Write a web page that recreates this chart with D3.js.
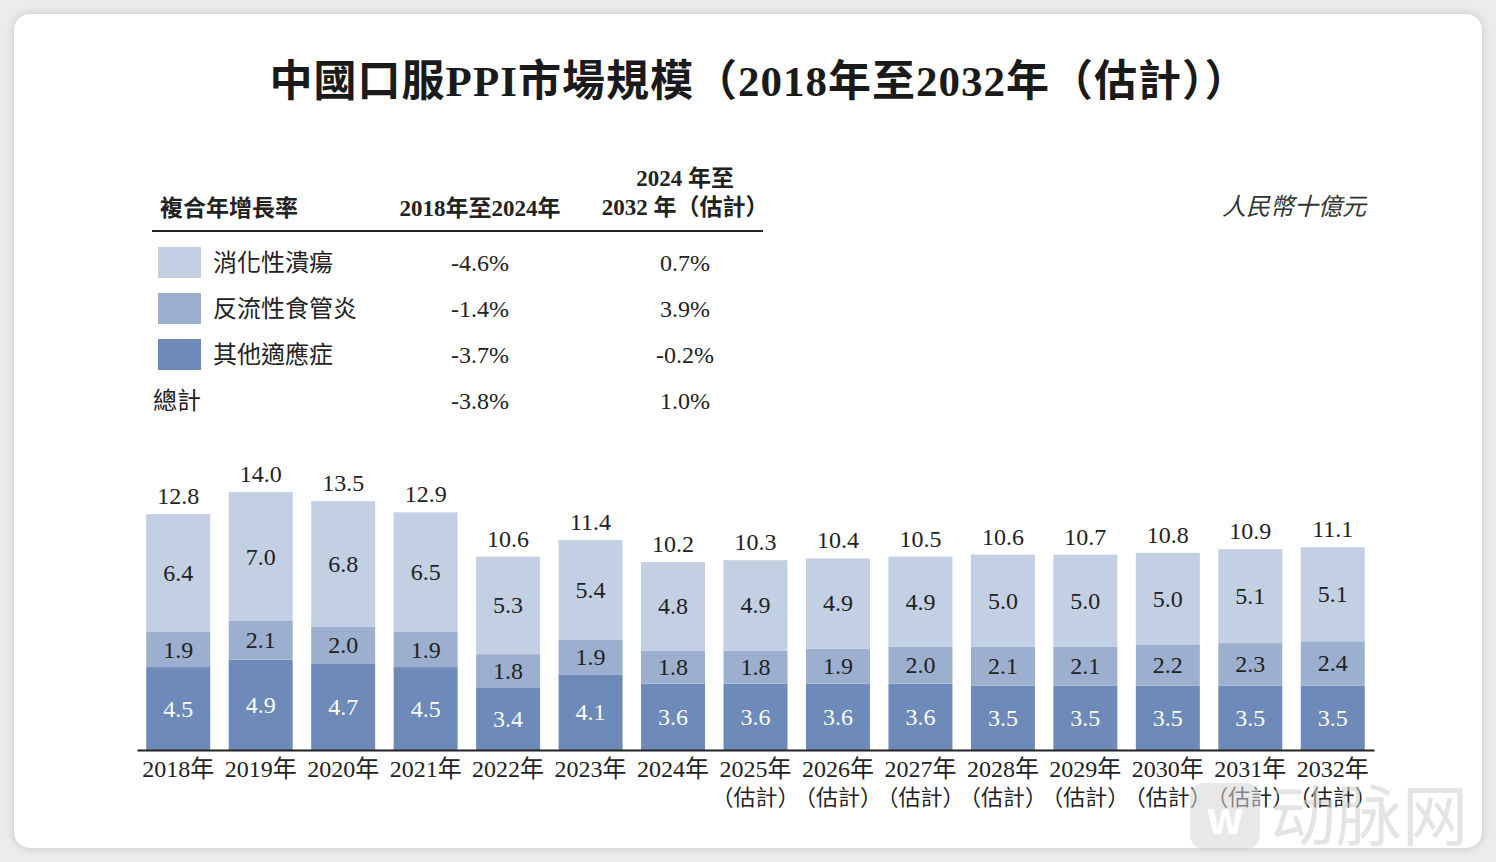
<!DOCTYPE html>
<html><head><meta charset="utf-8">
<script src="https://cdn.jsdelivr.net/npm/d3@7/dist/d3.min.js"></script>
<style>
html,body{margin:0;padding:0;background:#ececec;}
#card{position:absolute;left:14px;top:14px;width:1468px;height:834px;background:#fff;border-radius:16px;box-shadow:0 0 10px rgba(0,0,0,0.18);}
svg{position:absolute;left:0;top:0;}
</style></head>
<body>
<div id="card"></div>
<svg id="chart" width="1496" height="862"></svg>
<script>
const years = ["2018年","2019年","2020年","2021年","2022年","2023年","2024年","2025年","2026年","2027年","2028年","2029年","2030年","2031年","2032年"];
const estimated = [false,false,false,false,false,false,false,true,true,true,true,true,true,true,true];
const others = [4.5,4.9,4.7,4.5,3.4,4.1,3.6,3.6,3.6,3.6,3.5,3.5,3.5,3.5,3.5];
const reflux = [1.9,2.1,2.0,1.9,1.8,1.9,1.8,1.8,1.9,2.0,2.1,2.1,2.2,2.3,2.4];
const ulcer = [6.4,7.0,6.8,6.5,5.3,5.4,4.8,4.9,4.9,4.9,5.0,5.0,5.0,5.1,5.1];
const totals = [12.8,14.0,13.5,12.9,10.6,11.4,10.2,10.3,10.4,10.5,10.6,10.7,10.8,10.9,11.1];
const seriesNames = ["其他適應症","反流性食管炎","消化性潰瘍"];
const legendNames = ["消化性潰瘍","反流性食管炎","其他適應症"];
const cagr1 = ["-4.6%","-1.4%","-3.7%","-3.8%"];
const cagr2 = ["0.7%","3.9%","-0.2%","1.0%"];

const colors = {"消化性潰瘍":"#c3cfe3","反流性食管炎":"#9cafcf","其他適應症":"#6d8ab8"};
const serif = "'Liberation Serif','Noto Sans CJK TC',serif";
const svg = d3.select("#chart");

// title
svg.append("text").attr("x",759).attr("y",96).attr("text-anchor","middle")
  .attr("font-family",serif).attr("font-weight","bold").attr("font-size",43).attr("letter-spacing",1).attr("fill","#1a1a1a")
  .text("中國口服PPI市場規模（2018年至2032年（估計））");

// table
const tb = svg.append("g").attr("font-family",serif).attr("fill","#222");
tb.append("text").attr("x",160).attr("y",216).attr("font-size",23).attr("font-weight","bold").text("複合年增長率");
tb.append("text").attr("x",480).attr("y",216).attr("text-anchor","middle").attr("font-size",23).attr("font-weight","bold").text("2018年至2024年");
tb.append("text").attr("x",685).attr("y",186).attr("text-anchor","middle").attr("font-size",23).attr("font-weight","bold").text("2024 年至");
tb.append("text").attr("x",685).attr("y",215).attr("text-anchor","middle").attr("font-size",23).attr("font-weight","bold").text("2032 年（估計）");
tb.append("line").attr("x1",152).attr("x2",763).attr("y1",231).attr("y2",231).attr("stroke","#222").attr("stroke-width",2);

const rowY = d3.scalePoint().domain([0,1,2,3]).range([263,401]);
legendNames.forEach((n,i)=>{
  const y = rowY(i);
  tb.append("rect").attr("x",158).attr("y",y-16).attr("width",43).attr("height",31).attr("fill",colors[n]);
  tb.append("text").attr("x",213).attr("y",y+8).attr("font-size",24).text(n);
});
tb.append("text").attr("x",153).attr("y",rowY(3)+8).attr("font-size",24).text("總計");
[0,1,2,3].forEach(i=>{
  tb.append("text").attr("x",480).attr("y",rowY(i)+8).attr("text-anchor","middle").attr("font-size",24).text(cagr1[i]);
  tb.append("text").attr("x",685).attr("y",rowY(i)+8).attr("text-anchor","middle").attr("font-size",24).text(cagr2[i]);
});

svg.append("text").attr("x",1366).attr("y",215).attr("text-anchor","end")
  .attr("font-family",serif).attr("font-style","italic").attr("font-size",24).attr("fill","#333").text("人民幣十億元");

// chart
const baseY = 750;
const x = d3.scaleBand().domain(years).range([137,1374]).paddingInner(0.224).paddingOuter(0.112);
const y = d3.scaleLinear().domain([0,14]).range([baseY, baseY-258]);

const data = years.map((yr,i)=>({year:yr,"其他適應症":others[i],"反流性食管炎":reflux[i],"消化性潰瘍":ulcer[i],total:totals[i],est:estimated[i]}));
const stack = d3.stack().keys(seriesNames)(data);

const g = svg.append("g");
stack.forEach(layer=>{
  const key = layer.key;
  g.selectAll(null).data(layer).enter().append("rect")
    .attr("x",d=>x(d.data.year)).attr("width",x.bandwidth())
    .attr("y",d=>y(d[1])).attr("height",d=>y(d[0])-y(d[1]))
    .attr("fill",colors[key]);
  g.selectAll(null).data(layer).enter().append("text")
    .attr("x",d=>x(d.data.year)+x.bandwidth()/2)
    .attr("y",d=>(y(d[0])+y(d[1]))/2+8)
    .attr("text-anchor","middle").attr("font-family",serif).attr("font-size",24)
    .attr("fill", key==="其他適應症" ? "#fff" : "#222")
    .text(d=>d.data[key].toFixed(1));
});
g.selectAll(null).data(data).enter().append("text")
  .attr("x",d=>x(d.year)+x.bandwidth()/2)
  .attr("y",d=>y(d["其他適應症"]+d["反流性食管炎"]+d["消化性潰瘍"])-10)
  .attr("text-anchor","middle").attr("font-family",serif).attr("font-size",24).attr("fill","#222")
  .text(d=>d.total.toFixed(1));

const axis = svg.append("g").attr("transform",`translate(0,${baseY})`)
  .call(d3.axisBottom(x).tickSize(0).tickPadding(0).tickFormat(""));
axis.select(".domain").attr("stroke","#222").attr("stroke-width",2);
axis.selectAll(".tick").each(function(d,i){
  const t = d3.select(this);
  t.append("text").attr("y",27).attr("text-anchor","middle").attr("font-family",serif).attr("font-size",24).attr("fill","#222").text(d);
  if (estimated[i]) t.append("text").attr("y",55).attr("text-anchor","middle").attr("font-family",serif).attr("font-size",22).attr("fill","#222").text("（估計）");
});

// watermark
const wm = svg.append("g").attr("opacity",0.55);
wm.append("rect").attr("x",1190).attr("y",783).attr("width",70).attr("height",66).attr("rx",14).attr("fill","#d6d6d6");
wm.append("text").attr("x",1225).attr("y",834).attr("text-anchor","middle").attr("font-family","'Noto Sans CJK SC',sans-serif").attr("font-weight","bold").attr("font-size",44).attr("fill","#fff").text("w");
wm.append("text").attr("x",1270).attr("y",840).attr("font-family","'Noto Sans CJK SC',sans-serif").attr("font-size",66).attr("fill","#cfcfcf").text("动脉网");
</script>
</body></html>
